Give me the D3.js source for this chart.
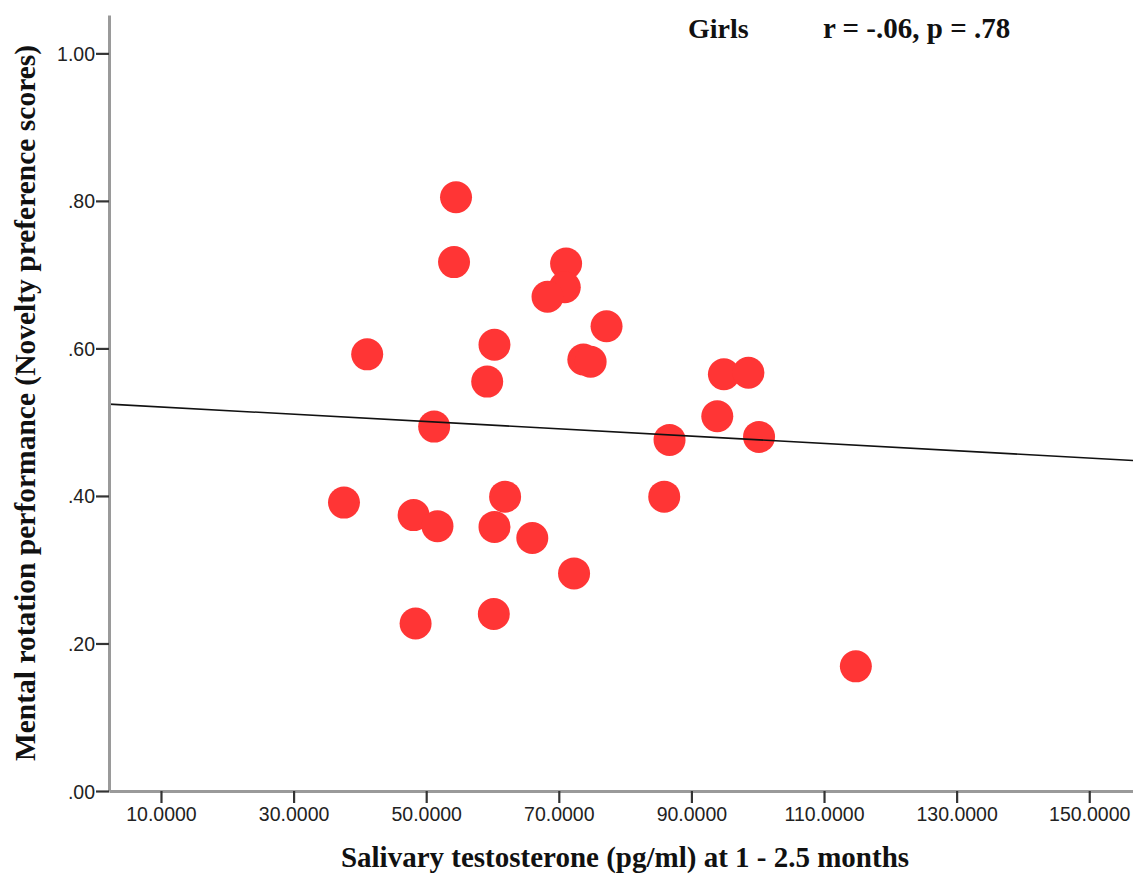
<!DOCTYPE html>
<html lang="en">
<head>
    <meta charset="utf-8" />
    <title>Girls scatter</title>
    <script src="https://d3js.org/d3.v7.min.js"></script>
    <style>
        body { margin: 0; background: white; }
        svg { display: block; }
        .tick-label { font-family: 'Liberation Sans', Arial, sans-serif; font-size: 19.5px; fill: #222; }
        .title { font-family: 'Liberation Serif', 'Times New Roman', serif; font-weight: bold; fill: #111; }
    </style>
</head>
<body>
<script>
    // testosterone (pg/ml)
    const testosterone = [54.5, 54.2, 41.1, 60.3, 59.2, 71.1, 70.9, 68.3, 77.2, 73.7,
        74.8, 51.2, 37.6, 48.1, 51.7, 61.9, 60.3, 66.0, 72.3, 48.4,
        60.2, 94.9, 98.6, 93.9, 86.7, 100.2, 85.9, 114.8];
    // novelty preference scores
    const rotation = [0.805, 0.717, 0.592, 0.605, 0.555, 0.715, 0.683, 0.670, 0.630, 0.585,
        0.582, 0.494, 0.391, 0.374, 0.359, 0.399, 0.358, 0.343, 0.295, 0.227,
        0.240, 0.565, 0.567, 0.508, 0.476, 0.480, 0.399, 0.169];

    const xTicks = [10, 30, 50, 70, 90, 110, 130, 150];
    const xTickLabels = ["10.0000", "30.0000", "50.0000", "70.0000", "90.0000", "110.0000", "130.0000", "150.0000"];
    const yTicks = [0, 0.2, 0.4, 0.6, 0.8, 1.0];
    const yTickLabels = [".00", ".20", ".40", ".60", ".80", "1.00"];

    // fit line as drawn
    const fitIntercept = 0.5256;
    const fitSlope = -0.000495;

    const width = 1133, height = 875;
    const plotLeft = 109, plotRight = 1133, plotTop = 15, plotBottom = 791;

    const svg = d3.select("body").append("svg")
        .attr("width", width)
        .attr("height", height);

    const x = d3.scaleLinear().domain([2.16, 156.6]).range([plotLeft, plotRight]);
    const y = d3.scaleLinear().domain([0, 1.052]).range([plotBottom, plotTop]);

    const points = testosterone.map((t, i) => ({ t: t, r: rotation[i] }));

    // dots
    svg.append("g").selectAll("circle")
        .data(points)
        .enter()
        .append("circle")
        .attr("cx", d => x(d.t))
        .attr("cy", d => y(d.r))
        .attr("r", 16)
        .style("fill", "#ff3535");

    // fit line drawn over the dots
    const xd = x.domain();
    svg.append("line")
        .attr("x1", x(xd[0])).attr("y1", y(fitIntercept + fitSlope * xd[0]))
        .attr("x2", x(xd[1])).attr("y2", y(fitIntercept + fitSlope * xd[1]))
        .style("stroke", "#111")
        .style("stroke-width", 1.6);

    // x axis
    const xAxis = d3.axisBottom(x)
        .tickValues(xTicks)
        .tickSize(12)
        .tickSizeOuter(0)
        .tickPadding(4)
        .tickFormat((d, i) => xTickLabels[i]);
    const gx = svg.append("g")
        .attr("transform", `translate(0,${plotBottom})`)
        .call(xAxis);

    // y axis
    const yAxis = d3.axisLeft(y)
        .tickValues(yTicks)
        .tickSize(13)
        .tickSizeOuter(0)
        .tickPadding(1)
        .tickFormat((d, i) => yTickLabels[i]);
    const gy = svg.append("g")
        .attr("transform", `translate(${plotLeft},0)`)
        .call(yAxis);

    [gx, gy].forEach(g => {
        g.attr("font-size", null).attr("font-family", null);
        g.select(".domain").style("stroke", "#9a9a9a").style("stroke-width", 3);
        g.selectAll(".tick line").style("stroke", "#333").style("stroke-width", 2.2);
        g.selectAll(".tick text").attr("class", "tick-label");
    });
    gy.selectAll(".tick text").attr("dy", "0.36em");
    gx.selectAll(".tick text").attr("dy", "0.71em");

    // axis titles
    svg.append("text")
        .attr("class", "title")
        .attr("x", (plotLeft + plotRight) / 2 + 4)
        .attr("y", 867)
        .attr("text-anchor", "middle")
        .style("font-size", "29px")
        .text("Salivary testosterone (pg/ml) at 1 - 2.5 months");

    svg.append("text")
        .attr("class", "title")
        .attr("transform", `translate(35,${(plotTop + plotBottom) / 2}) rotate(-90)`)
        .attr("text-anchor", "middle")
        .style("font-size", "29.5px")
        .text("Mental rotation performance (Novelty preference scores)");

    // annotation
    svg.append("text")
        .attr("class", "title")
        .attr("x", 688)
        .attr("y", 38)
        .style("font-size", "28px")
        .text("Girls");
    svg.append("text")
        .attr("class", "title")
        .attr("x", 823)
        .attr("y", 38)
        .style("font-size", "29px")
        .text("r = -.06, p = .78");
</script>
</body>
</html>
